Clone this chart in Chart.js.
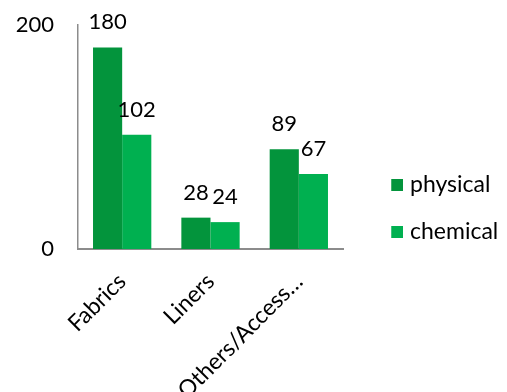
<!DOCTYPE html>
<html>
<head>
<meta charset="utf-8">
<script src="https://cdn.jsdelivr.net/npm/chart.js@4/dist/chart.umd.min.js"></script>
<style>
  html, body { margin: 0; padding: 0; background: #fff; overflow: hidden; }
  #wrap { position: relative; width: 507px; height: 392px; }
</style>
</head>
<body>
<div id="wrap"><canvas id="chart" width="507" height="392"></canvas></div>
<script>
// Categories and series values
const categories = ['Fabrics', 'Liners', 'Others/Access\u2026'];
const physical = [180, 28, 89];
const chemical = [102, 24, 67];
const yTicks = [0, 200];

const FONT = 'Lato, "Open Sans", sans-serif';
const DARK = '#03943c';
const LIGHT = '#00b050';

// Legend marker: a 12px square sitting at the right end of a transparent strip
function legendSquare(color) {
  const c = document.createElement('canvas');
  c.width = 41;
  c.height = 12;
  const g = c.getContext('2d');
  g.fillStyle = color;
  g.fillRect(29, 0, 12, 12);
  return c;
}

// Draws each bar's value above it
const valueLabels = {
  id: 'valueLabels',
  afterDatasetsDraw(chart) {
    const ctx = chart.ctx;
    ctx.save();
    ctx.font = '22px ' + FONT;
    ctx.fillStyle = '#000';
    ctx.textAlign = 'center';
    ctx.textBaseline = 'alphabetic';
    chart.data.datasets.forEach((ds, i) => {
      const meta = chart.getDatasetMeta(i);
      meta.data.forEach((el, j) => {
        ctx.fillText(String(ds.data[j]), el.x, el.y - 18);
      });
    });
    ctx.restore();
  }
};

new Chart(document.getElementById('chart'), {
  type: 'bar',
  data: {
    labels: categories,
    datasets: [
      { label: 'physical', data: physical, backgroundColor: DARK, pointStyle: legendSquare(DARK) },
      { label: 'chemical', data: chemical, backgroundColor: LIGHT, pointStyle: legendSquare(LIGHT) }
    ]
  },
  options: {
    responsive: false,
    animation: false,
    layout: { padding: { top: 25, right: 0, left: 0, bottom: 0 } },
    datasets: { bar: { categoryPercentage: 0.66, barPercentage: 1.0 } },
    plugins: {
      legend: {
        position: 'right',
        align: 'center',
        maxWidth: 164,
        labels: {
          usePointStyle: true,
          pointStyleWidth: 31.5,
          boxHeight: 12,
          padding: 24,
          color: '#000',
          font: { family: FONT, size: 23 }
        }
      },
      tooltip: { enabled: false }
    },
    scales: {
      x: {
        grid: { display: false },
        border: { display: true, color: '#8c8c8c', width: 2 },
        ticks: {
          color: '#000',
          font: { family: FONT, size: 23 },
          minRotation: 45,
          maxRotation: 45,
          autoSkip: false,
          padding: 11
        },
        afterFit(scale) { scale.height = 143; }
      },
      y: {
        min: 0,
        max: 200,
        grid: { display: false },
        border: { display: true, color: '#8c8c8c', width: 1.5 },
        afterBuildTicks(scale) { scale.ticks = yTicks.map(v => ({ value: v })); },
        ticks: {
          color: '#000',
          font: { family: FONT, size: 22 },
          padding: 16
        },
        afterFit(scale) {
          scale.width = 78;
          scale.paddingTop = 0;
          scale.paddingBottom = 0;
        }
      }
    }
  },
  plugins: [valueLabels]
});
</script>
</body>
</html>
